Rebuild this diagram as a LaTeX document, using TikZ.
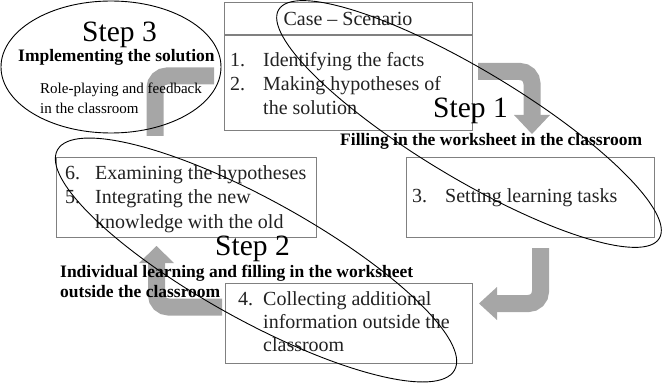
\documentclass[tikz,border=0pt]{standalone}
\usepackage{fontspec}
\setmainfont{Liberation Serif}
\definecolor{boxgray}{HTML}{808080}
\definecolor{arrgray}{HTML}{A6A6A6}
\definecolor{txt}{HTML}{222222}
\begin{document}
\begin{tikzpicture}[x=1pt,y=-1pt,
  box/.style={draw=boxgray,line width=1.1pt,fill=white,anchor=north west,inner sep=0pt},
  band/.style={draw=arrgray,line width=17pt,rounded corners=12pt},
  head/.style={fill=arrgray},
  item/.style={anchor=base west,inner sep=0pt,text=txt,font=\fontsize{20}{24}\selectfont},
  steplbl/.style={anchor=base west,inner sep=0pt,text=black,font=\fontsize{29.5}{32}\selectfont},
  boldlbl/.style={anchor=base west,inner sep=0pt,text=black,font=\fontsize{17.5}{20}\selectfont\bfseries},
  small/.style={anchor=base west,inner sep=0pt,text=black,font=\fontsize{15}{18}\selectfont},
  ell/.style={draw=black,line width=0.9pt}]
\useasboundingbox (0,0) rectangle (667,385);
% arrows (bands)
\coordinate (a1s) at (478,71.5); \coordinate (a1c) at (532,71.5); \coordinate (a1e) at (532,116);
\draw[band] (a1s) -- (a1c) -- (a1e);
\fill[head] (514,115) -- (550,115) -- (532,134) -- cycle;
\coordinate (a2s) at (540.5,248); \coordinate (a2c) at (540.5,303.5); \coordinate (a2e) at (496,303.5);
\draw[band] (a2s) -- (a2c) -- (a2e);
\fill[head] (497,287) -- (497,320) -- (479,303.5) -- cycle;
\coordinate (a3s) at (222,307); \coordinate (a3c) at (156.5,307); \coordinate (a3e) at (156.5,262);
\draw[band] (a3s) -- (a3c) -- (a3e);
\fill[head] (139,263) -- (174,263) -- (156.5,246) -- cycle;
\coordinate (a4s) at (155,136); \coordinate (a4c) at (155,76); \coordinate (a4e) at (214,76);
\draw[band] (a4s) -- (a4c) -- (a4e);
% boxes
\node[box,minimum width=248pt,minimum height=128pt] (b1) at (224,2) {};
\draw[draw=boxgray,line width=1.1pt] (b1.west |- 0,35) coordinate (d1) -- (b1.east |- 0,35) coordinate (d2);
\node[box,minimum width=248pt,minimum height=80pt] (b3) at (406,157) {};
\node[box,minimum width=260pt,minimum height=80pt] (b65) at (56,157) {};
\node[box,minimum width=247pt,minimum height=80pt] (b4) at (225,283) {};
% box texts
\node[item,anchor=center] (t0) at (348,19) {Case -- Scenario};
\node[item] (n1) at (230,67) {1.};
\node[item] (t1) at (263,67) {Identifying the facts};
\node[item] (n2) at (230,91) {2.};
\node[item] (t2) at (263,91) {Making hypotheses of};
\node[item] (t2b) at (263,115) {the solution};
\node[item] (n3) at (412,203) {3.};
\node[item] (t3) at (445,203) {Setting learning tasks};
\node[item] (n6) at (65,180) {6.};
\node[item] (t6) at (95,180) {Examining the hypotheses};
\node[item] (n5) at (65,204) {5.};
\node[item] (t5) at (95,204) {Integrating the new};
\node[item] (t5b) at (95,228) {knowledge with the old};
\node[item] (n4) at (238,305) {4.};
\node[item] (t4) at (263,305) {Collecting additional};
\node[item] (t4b) at (263,328) {information outside the};
\node[item] (t4c) at (263,351) {classroom};
% step labels
\node[steplbl] (s3) at (82,42) {Step 3};
\node[boldlbl] (s3b) at (18,62) {Implementing the solution};
\node[small] (s3c) at (40,94) {Role-playing and feedback};
\node[small] (s3d) at (40,114) {in the classroom};
\node[steplbl] (s1) at (433,118) {Step 1};
\node[boldlbl] (s1b) at (340,146) {Filling in the worksheet in the classroom};
\node[steplbl] (s2) at (215,255) {Step 2};
\node[boldlbl] (s2b) at (60,277) {Individual learning and filling in the worksheet};
\node[boldlbl] (s2c) at (60,297) {outside the classroom};
% ellipses
\draw[ell] (111,67) ellipse [x radius=110, y radius=66];
\draw[ell,rotate around={-31:(469,124)}] (469,124) ellipse [x radius=222, y radius=54];
\draw[ell,rotate around={-29:(256,260)}] (256,260) ellipse [x radius=227, y radius=60];
\end{tikzpicture}
\end{document}
